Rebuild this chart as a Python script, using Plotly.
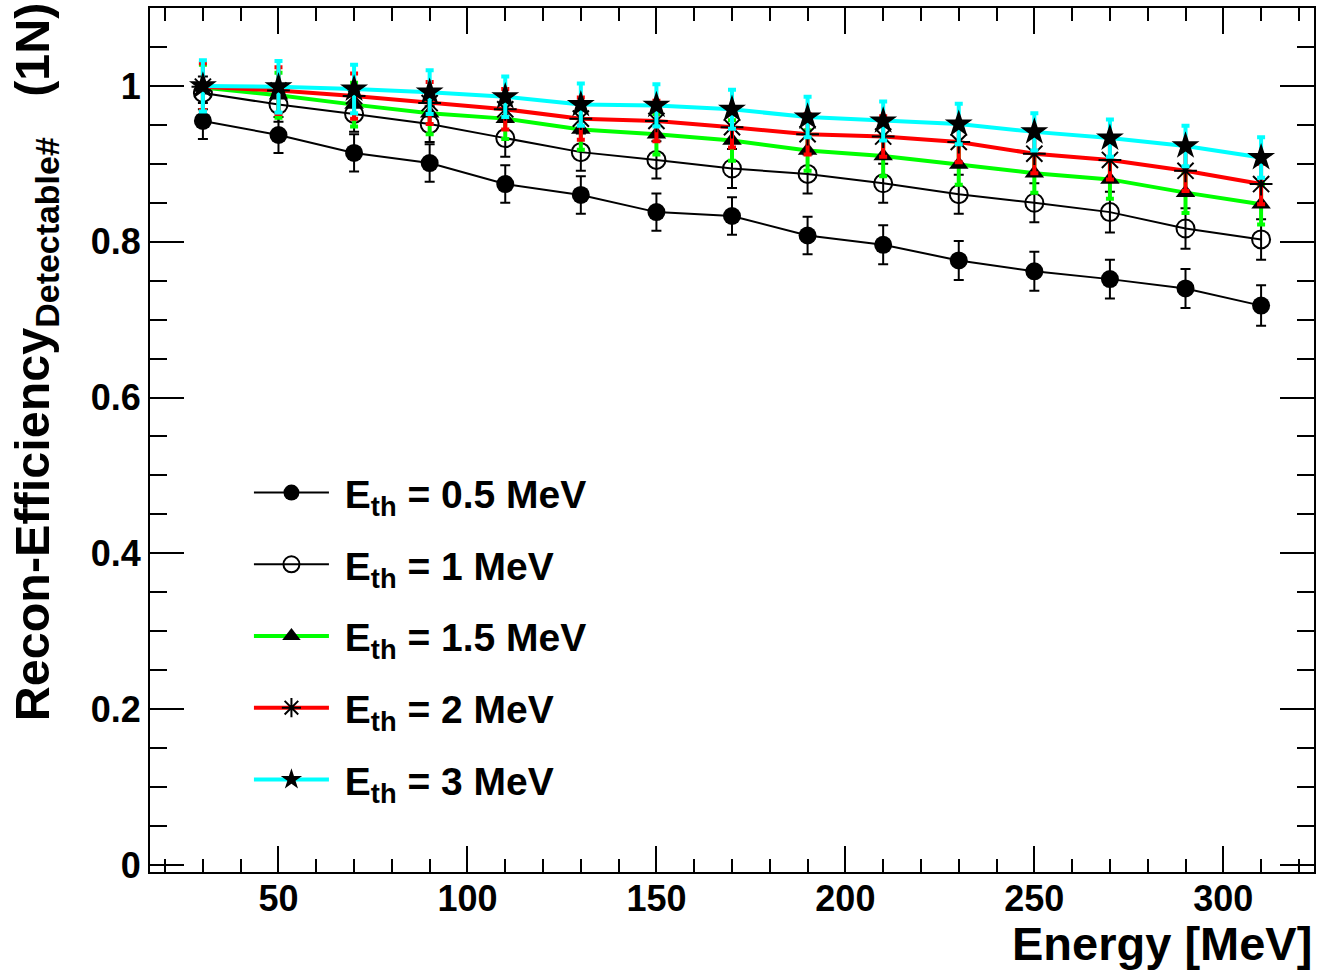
import plotly.graph_objects as go

energy = [30, 50, 70, 90, 110, 130, 150, 170, 190, 210, 230, 250, 270, 290, 310]

eff_05 = [0.955, 0.937, 0.914, 0.901, 0.874, 0.860, 0.838, 0.833, 0.808, 0.796, 0.776, 0.762, 0.752, 0.740, 0.718]
err_05 = [0.023, 0.023, 0.024, 0.024, 0.024, 0.024, 0.024, 0.024, 0.024, 0.025, 0.025, 0.025, 0.025, 0.025, 0.026]

eff_1 = [0.991, 0.976, 0.964, 0.951, 0.933, 0.915, 0.905, 0.894, 0.887, 0.875, 0.861, 0.850, 0.838, 0.817, 0.803]
err_1 = [0.021, 0.022, 0.023, 0.023, 0.024, 0.024, 0.024, 0.025, 0.025, 0.025, 0.025, 0.025, 0.026, 0.026, 0.026]

eff_15 = [0.998, 0.988, 0.976, 0.965, 0.958, 0.944, 0.938, 0.930, 0.917, 0.910, 0.899, 0.888, 0.880, 0.863, 0.848]
err_15 = [0.029, 0.029, 0.028, 0.027, 0.026, 0.026, 0.026, 0.026, 0.026, 0.026, 0.026, 0.025, 0.025, 0.026, 0.026]

eff_2 = [0.999, 0.994, 0.987, 0.978, 0.970, 0.958, 0.955, 0.947, 0.938, 0.935, 0.928, 0.913, 0.905, 0.891, 0.874]
err_2 = [0.030, 0.030, 0.029, 0.027, 0.026, 0.027, 0.026, 0.026, 0.026, 0.026, 0.026, 0.025, 0.025, 0.026, 0.026]

eff_3 = [1.000, 0.999, 0.996, 0.992, 0.986, 0.976, 0.975, 0.970, 0.960, 0.955, 0.951, 0.941, 0.933, 0.923, 0.908]
err_3 = [0.033, 0.033, 0.031, 0.028, 0.026, 0.027, 0.027, 0.025, 0.026, 0.025, 0.026, 0.024, 0.024, 0.026, 0.026]

labels = ["E<sub>th</sub> = 0.5 MeV", "E<sub>th</sub> = 1 MeV", "E<sub>th</sub> = 1.5 MeV",
          "E<sub>th</sub> = 2 MeV", "E<sub>th</sub> = 3 MeV"]

FONT = "Liberation Sans, Arial, Helvetica, sans-serif"

series = [
    (eff_05, err_05, labels[0], "black", 2, "circle", 18, "black", 2, 5),
    (eff_1, err_1, labels[1], "black", 2, "circle-open", 18, "black", 2, 5),
    (eff_15, err_15, labels[2], "#00ff00", 4, "triangle-up", 17, "#00ff00", 4, 4),
    (eff_2, err_2, labels[3], "#ff0000", 4, "asterisk-open", 19, "#ff0000", 4, 4),
    (eff_3, err_3, labels[4], "#00ffff", 4, "star", 21, "#00ffff", 4, 4),
]

fig = go.Figure()
for i, (y, e, name, lc, lw, sym, ms, ec, et, ew) in enumerate(series):
    marker = dict(symbol=sym, size=ms, color="black")
    if sym in ("asterisk-open", "circle-open"):
        marker["line"] = dict(color="black", width=2)
    else:
        marker["line"] = dict(width=0)
    fig.add_trace(go.Scatter(
        x=energy, y=y, name="\u00a0" + name, mode="lines+markers",
        line=dict(color=lc, width=lw),
        marker=marker,
        error_y=dict(type="data", array=e, visible=True, color=ec, thickness=et, width=ew),
        legendgroup=f"g{i}",
    ))

fig.update_layout(
    width=1320, height=975,
    margin=dict(l=150, r=4, t=8, b=103),
    paper_bgcolor="white", plot_bgcolor="white",
    font=dict(family=FONT, color="black"),
    showlegend=True,
    legend=dict(
        x=0.085, y=0.476, xanchor="left", yanchor="top",
        bgcolor="rgba(0,0,0,0)",
        font=dict(size=39, family=FONT, color="black", weight="bold"),
        tracegroupgap=18, itemwidth=75,
    ),
    xaxis=dict(
        range=[16, 324], tickmode="linear", tick0=0, dtick=50,
        ticks="inside", ticklen=26, tickwidth=1.5, tickcolor="black",
        minor=dict(ticks="inside", ticklen=13, dtick=10, tickwidth=1.5, tickcolor="black"),
        showline=True, linecolor="black", linewidth=2, mirror="allticks",
        showgrid=False, zeroline=False, ticklabelstandoff=-6,
        tickfont=dict(size=36, family=FONT, color="black", weight="bold"),
    ),
    yaxis=dict(
        range=[-0.009, 1.1], tickmode="linear", tick0=0, dtick=0.2,
        ticks="inside", ticklen=34, tickwidth=1.5, tickcolor="black",
        minor=dict(ticks="inside", ticklen=17, dtick=0.05, tickwidth=1.5, tickcolor="black"),
        showline=True, linecolor="black", linewidth=2, mirror="allticks",
        showgrid=False, zeroline=False,
        tickfont=dict(size=36, family=FONT, color="black", weight="bold"),
    ),
)

fig.add_annotation(
    text="Energy [MeV]", xref="paper", yref="paper", x=1.0, y=-0.050,
    xanchor="right", yanchor="top", showarrow=False,
    font=dict(size=47, family=FONT, color="black", weight="bold"),
)
fig.add_annotation(
    text="Recon-Efficiency<sub>Detectable#</sub>   (1N)", xref="paper", yref="paper",
    x=-147 / 1166, y=1 + 8 / 864, xanchor="left", yanchor="top", textangle=-90,
    showarrow=False,
    font=dict(size=48.5, family=FONT, color="black", weight="bold"),
)

fig.write_html("out.html", post_script="document.body.style.margin='0';",
               config={"displayModeBar": False})
